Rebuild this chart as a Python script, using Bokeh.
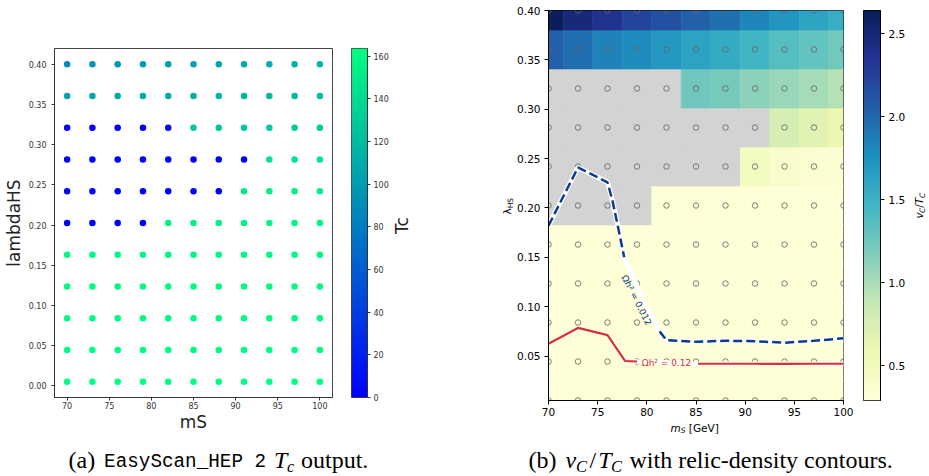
import math
import numpy as np
from bokeh.plotting import figure
from bokeh.models import Range1d, FixedTicker, LinearColorMapper, ColumnDataSource, Label, NumeralTickFormatter
from bokeh.layouts import row, column
from bokeh.embed import file_html
from bokeh.resources import INLINE
from bokeh.transform import linear_cmap

# ---------------- data ----------------
m_s = [70, 73, 76, 79, 82, 85, 88, 91, 94, 97, 100]
lambda_hs = [0.005, 0.0445, 0.084, 0.1235, 0.163, 0.2025, 0.242, 0.2815, 0.321, 0.3605, 0.4]

# panel (a): Tc, one row per lambda_hs value, one column per m_s value
tc_rows = [
    [163, 163, 163, 163, 163, 163, 163, 163, 163, 163, 163],
    [162, 162, 162, 162, 162, 162, 162, 162, 162, 162, 162],
    [161, 161, 161, 161, 161, 161, 161, 161, 161, 161, 161],
    [160, 160, 160, 160, 160, 160, 160, 160, 160, 160, 160],
    [158, 158, 158, 158, 158, 158, 158, 158, 158, 158, 158],
    [0, 0, 0, 0, 156, 156, 156, 157, 157, 157, 157],
    [0, 0, 0, 0, 0, 0, 0, 152, 152, 153, 153],
    [0, 0, 0, 0, 0, 0, 0, 0, 146, 147, 148],
    [0, 0, 0, 0, 0, 127, 128, 129, 130, 131, 132],
    [108, 109, 110, 111, 112, 113, 115, 116, 118, 120, 122],
    [92, 95, 98, 100, 103, 105, 108, 110, 112, 115, 118],
]
tc_max = 163.6
tc_ticks = [0, 20, 40, 60, 80, 100, 120, 140, 160]

# panel (b): v_C/T_C (nan = no transition, grey)
nan = float("nan")
vt_rows = [
    [0.31, 0.31, 0.31, 0.31, 0.31, 0.31, 0.31, 0.31, 0.31, 0.31, 0.31],
    [0.31, 0.31, 0.31, 0.31, 0.31, 0.31, 0.31, 0.31, 0.31, 0.31, 0.31],
    [0.31, 0.31, 0.31, 0.31, 0.31, 0.31, 0.31, 0.31, 0.31, 0.31, 0.31],
    [0.31, 0.31, 0.31, 0.31, 0.31, 0.31, 0.31, 0.31, 0.31, 0.31, 0.31],
    [0.31, 0.31, 0.31, 0.31, 0.31, 0.31, 0.31, 0.31, 0.31, 0.31, 0.31],
    [nan, nan, nan, nan, 0.31, 0.31, 0.31, 0.31, 0.31, 0.31, 0.31],
    [nan, nan, nan, nan, nan, nan, nan, 0.47, 0.40, 0.37, 0.35],
    [nan, nan, nan, nan, nan, nan, nan, nan, 0.78, 0.69, 0.60],
    [nan, nan, nan, nan, nan, 1.25, 1.21, 1.12, 1.07, 1.02, 0.96],
    [2.04, 1.96, 1.85, 1.78, 1.70, 1.63, 1.56, 1.47, 1.37, 1.30, 1.23],
    [2.62, 2.48, 2.37, 2.24, 2.15, 2.04, 1.95, 1.82, 1.72, 1.62, 1.53],
]
vt_min, vt_max = 0.29, 2.64
vt_ticks = [0.5, 1.0, 1.5, 2.0, 2.5]

# relic density contours
blue_x = [70, 73, 76, 76.5, 77.0, 77.7, 79.4, 81.3, 82.0, 85, 88, 91, 94, 97, 100]
blue_y = [0.182, 0.241, 0.226, 0.2076, 0.184, 0.150, 0.112, 0.075, 0.066, 0.0645, 0.0655, 0.065, 0.0635, 0.0655, 0.068]
red_x = [70, 73, 76, 77.8, 79.0, 85.2, 88, 91, 94, 97, 100]
red_y = [0.0625, 0.0785, 0.0712, 0.045, 0.0445, 0.0422, 0.0422, 0.0422, 0.0421, 0.0422, 0.0422]

x_ticks = [70, 75, 80, 85, 90, 95, 100]
ya_ticks = [0.0, 0.05, 0.10, 0.15, 0.20, 0.25, 0.30, 0.35, 0.40]
yb_ticks = [0.05, 0.10, 0.15, 0.20, 0.25, 0.30, 0.35, 0.40]

# ---------------- palettes ----------------
winter = ["#%02x%02x%02x" % (0, int(round(255 * t)), int(round(255 * (1 - 0.5 * t))))
          for t in np.linspace(0, 1, 256)]

def interp_palette(anchors, n=256):
    rgb = [tuple(int(a[i:i + 2], 16) for i in (1, 3, 5)) for a in anchors]
    pos = np.linspace(0, 1, len(rgb))
    out = []
    for t in np.linspace(0, 1, n):
        c = [np.interp(t, pos, [col[k] for col in rgb]) for k in range(3)]
        out.append("#%02x%02x%02x" % tuple(int(round(v)) for v in c))
    return out

ylgnbu = interp_palette(["#ffffd9", "#edf8b1", "#c7e9b4", "#7fcdbb", "#41b6c4",
                         "#1d91c0", "#225ea8", "#253494", "#081d58"])

# ---------------- sources ----------------
gx, gy, gtc, gvt = [], [], [], []
for i, lam in enumerate(lambda_hs):
    for j, m in enumerate(m_s):
        gx.append(m)
        gy.append(lam)
        gtc.append(tc_rows[i][j])
        gvt.append(vt_rows[i][j])
src = ColumnDataSource(dict(x=np.array(gx, float), y=np.array(gy, float),
                            tc=np.array(gtc, float), vt=np.array(gvt, float)))

# ---------------- helpers ----------------
def make_fig(w, h, xr, yr, left, right, top, bottom, **kw):
    p = figure(width=w, height=h, x_range=xr, y_range=yr, toolbar_location=None,
               output_backend="svg", min_border_left=left, min_border_right=right,
               min_border_top=top, min_border_bottom=bottom, frame_align=False, **kw)
    p.grid.visible = False
    p.background_fill_color = "white"
    p.border_fill_color = "white"
    return p

def label_fig(x0, x1, y0, y1):
    # empty canvas whose data coordinates are page pixels (y downwards)
    f = figure(width=x1 - x0, height=y1 - y0, x_range=Range1d(x0, x1), y_range=Range1d(y1, y0),
               toolbar_location=None, output_backend="svg", x_axis_location=None,
               y_axis_location=None, min_border=0, frame_align=False)
    f.grid.visible = False
    f.outline_line_color = None
    return f

def style_axis(ax, size, color, standoff, tick_out=4):
    ax.major_label_text_font = "DejaVu Sans"
    ax.major_label_text_font_size = f"{size}px"
    ax.major_label_text_color = color
    ax.major_label_standoff = standoff
    ax.major_tick_in = 0
    ax.major_tick_out = tick_out
    ax.major_tick_line_color = color
    ax.axis_line_color = color
    ax.minor_tick_line_color = None

def txt(p, x, y, s, size, font="DejaVu Sans", style="normal", color="black",
        angle=0.0, align="left", baseline="middle"):
    p.add_layout(Label(x=x, y=y, text=s, text_font=font,
                       text_font_size=f"{size}px", text_font_style=style, text_color=color,
                       angle=angle, text_align=align, text_baseline=baseline))

UP = math.pi / 2

# ---------------- panel (a) ----------------
pa = make_fig(341, 440, Range1d(68.5, 101.5), Range1d(-0.01475, 0.41975), 52, 9, 48, 43)
pa.outline_line_color = "#444444"
pa.scatter("x", "y", source=src, size=6.5, line_color=None,
           fill_color=linear_cmap("tc", winter, 0, tc_max))
pa.xaxis.ticker = FixedTicker(ticks=x_ticks)
pa.yaxis.ticker = FixedTicker(ticks=ya_ticks)
pa.yaxis.formatter = NumeralTickFormatter(format="0.00")
style_axis(pa.xaxis[0], 8, "#333333", 1, 3)
style_axis(pa.yaxis[0], 8, "#333333", 5, 3)
pa.xaxis.axis_label = "mS"
pa.yaxis.axis_label = "lambdaHS"
for ax, so in ((pa.xaxis[0], 0), (pa.yaxis[0], 2)):
    ax.axis_label_text_font = "DejaVu Sans"
    ax.axis_label_text_font_size = "17px"
    ax.axis_label_text_font_style = "normal"
    ax.axis_label_text_color = "#222222"
    ax.axis_label_standoff = so

# colour bar (a)
cba = make_fig(50, 440, Range1d(0, 1), Range1d(0, tc_max), 10, 23, 48, 43,
               x_axis_location=None, y_axis_location="right")
cba.outline_line_color = "#444444"
cba.image(image=[np.linspace(0, tc_max, 256).reshape(256, 1)], x=0, y=0, dw=1, dh=tc_max,
          color_mapper=LinearColorMapper(palette=winter, low=0, high=tc_max))
cba.yaxis.ticker = FixedTicker(ticks=tc_ticks)
style_axis(cba.yaxis[0], 8, "#333333", 3, 3)

cba_lab = label_fig(391, 470, 0, 440)
txt(cba_lab, 401, 225, "Tc", 17, color="#222222", angle=UP, align="center")

# ---------------- panel (b) ----------------
pb_ylab = label_fig(470, 514, 0, 440)
txt(pb_ylab, 506.6, 214, "λ", 10.5, angle=UP)
txt(pb_ylab, 509.8, 207.8, "HS", 7.5, angle=UP)

pb = make_fig(342, 421, Range1d(70, 100), Range1d(0.005, 0.4), 33, 13, 10, 21)
pb.outline_line_color = "black"
cmap_b = linear_cmap("vt", ylgnbu, vt_min, vt_max, nan_color="#d3d3d3")
pb.rect("x", "y", width=3, height=0.0395, source=src, fill_color=cmap_b,
        line_color=cmap_b, line_width=0.6)
pb.scatter("x", "y", source=src, marker="circle", size=5.5, fill_color=None,
           line_color="#666666", line_alpha=0.85, line_width=1)

blue = "#0d3b8e"
red = "#dc2f2f"
pb.line(blue_x, blue_y, line_color="white", line_width=5)
pb.line(blue_x[:6], blue_y[:6], line_color=blue, line_width=2.5, line_dash="9 4")
pb.line(blue_x[7:], blue_y[7:], line_color=blue, line_width=2.5, line_dash="9 4")
pb.line(red_x, red_y, line_color="white", line_width=4.5)
pb.line(red_x[:5], red_y[:5], line_color=red, line_width=2.2)
pb.line(red_x[5:], red_y[5:], line_color=red, line_width=2.2)
txt(pb, 78.95, 0.1066, "Ωh² = 0.012", 9, color=blue, angle=-63 * math.pi / 180, align="center")
txt(pb, 82.0, 0.0425, "Ωh² = 0.12", 9, color=red, align="center")

pb.xaxis.ticker = FixedTicker(ticks=x_ticks)
pb.yaxis.ticker = FixedTicker(ticks=yb_ticks)
pb.yaxis.formatter = NumeralTickFormatter(format="0.00")
style_axis(pb.xaxis[0], 10.5, "black", 3)
style_axis(pb.yaxis[0], 10.5, "black", 4)

pb_xlab = label_fig(514, 856, 421, 440)
txt(pb_xlab, 670, 427.5, "m", 10.5, style="italic")
txt(pb_xlab, 680.2, 430.2, "S", 7.5, style="italic")
txt(pb_xlab, 688.3, 427.5, "[GeV]", 10.5)

# colour bar (b)
cbb = make_fig(52, 440, Range1d(0, 1), Range1d(vt_min, vt_max), 7, 26, 10, 40,
               x_axis_location=None, y_axis_location="right")
cbb.outline_line_color = "black"
cbb.image(image=[np.linspace(vt_min, vt_max, 256).reshape(256, 1)], x=0, y=vt_min, dw=1,
          dh=vt_max - vt_min, color_mapper=LinearColorMapper(palette=ylgnbu, low=vt_min, high=vt_max))
cbb.yaxis.ticker = FixedTicker(ticks=vt_ticks)
cbb.yaxis.formatter = NumeralTickFormatter(format="0.0")
style_axis(cbb.yaxis[0], 10.5, "black", 4)

cbb_lab = label_fig(908, 929, 0, 440)
txt(cbb_lab, 918.6, 218.0, "v", 10.5, style="italic", angle=UP)
txt(cbb_lab, 921.8, 212.5, "C", 7.5, style="italic", angle=UP)
txt(cbb_lab, 918.6, 207.3, "/", 10.5, angle=UP)
txt(cbb_lab, 918.6, 203.8, "T", 10.5, style="italic", angle=UP)
txt(cbb_lab, 921.8, 197.4, "C", 7.5, style="italic", angle=UP)

# ---------------- captions ----------------
SER = "Liberation Serif"
capa = label_fig(0, 470, 440, 476)
txt(capa, 68, 459.6, "(a)", 24, SER)
txt(capa, 103.6, 461.0, "EasyScan_HEP 2", 19.3, "Liberation Mono")
txt(capa, 273.5, 459.6, "T", 24, SER, "italic")
txt(capa, 286.5, 466.3, "c", 16.5, SER, "italic")
txt(capa, 300.5, 459.6, "output.", 24, SER)

capb = label_fig(470, 929, 440, 476)
txt(capb, 528, 459.6, "(b)", 24, SER)
txt(capb, 565, 459.6, "v", 24, SER, "italic")
txt(capb, 575.6, 466.3, "C", 16.5, SER, "italic")
txt(capb, 588.9, 459.6, "/", 24, SER)
txt(capb, 597.7, 459.6, "T", 24, SER, "italic")
txt(capb, 610.6, 466.3, "C", 16.5, SER, "italic")
txt(capb, 629, 459.6, "with relic-density contours.", 24, SER)

layout = column(row(pa, cba, cba_lab, pb_ylab, column(pb, pb_xlab), cbb, cbb_lab),
                row(capa, capb))
open("out.html", "w").write(file_html(layout, INLINE))
